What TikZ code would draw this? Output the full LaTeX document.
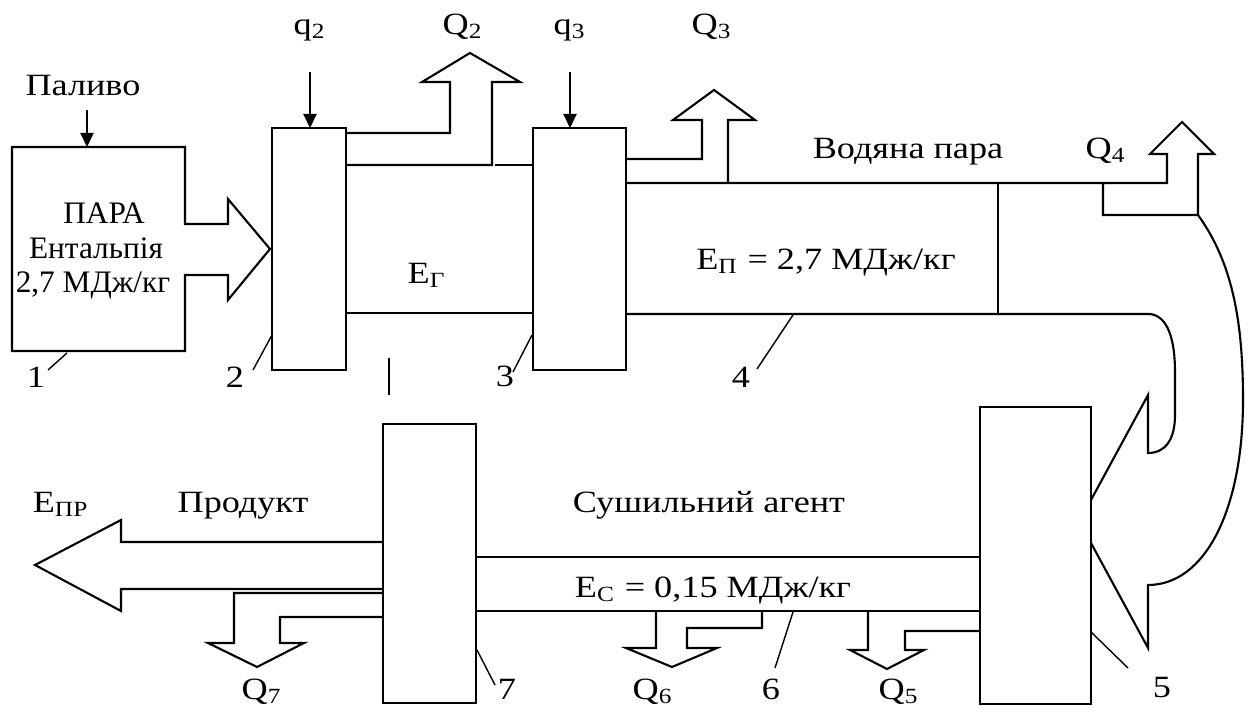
\documentclass[tikz,border=0pt]{standalone}
\usepackage{fontspec}
\setmainfont{Liberation Serif}[FakeStretch=1.17]
\newfontfamily\plainserif{Liberation Serif}
\usetikzlibrary{arrows.meta}
\tikzset{
  wall/.style    = {line width=0.6pt,line join=miter},
  inarr/.style   = {-{Triangle[length=1.4mm,width=1.3mm]},line width=0.6pt},
  leader/.style  = {line width=0.4pt},
  lbl/.style     = {font=\fontsize{8.8}{10.5}\selectfont,inner sep=0pt,anchor=base},
  boxlbl/.style  = {lbl,font=\plainserif\fontsize{8.9}{10.5}\selectfont}
}
\begin{document}
\begin{tikzpicture}[x=0.01cm,y=-0.01cm]
  \useasboundingbox (0,0) rectangle (1251,713);
  % boiler 1 with the steam arrow
  \draw[wall] (185,224) -- (185,147) -- (12,147) -- (12,351) -- (185,351) -- (185,275)
    -- (228,275) -- (228,300) -- (270,249) -- (228,199) -- (228,224) -- cycle;
  \draw[inarr] (87,110) -- (87,147);
  % units 2, 3, 5, 7
  \draw[wall] (272,128) rectangle (346,370);
  \draw[wall] (533,128) rectangle (626,370);
  \draw[wall] (980,407) rectangle (1091,704);
  \draw[wall] (383,424) rectangle (476,703);
  \draw[inarr] (310,72) -- (310,128);
  \draw[inarr] (570,72) -- (570,128);
  % gas pipe 2-3 and loss Q2
  \draw[wall] (346,133) -- (450,133) -- (450,82) -- (422,82) -- (470,53) -- (520,82)
    -- (492,82) -- (492,165) -- (346,165);
  \draw[wall] (495,165) -- (533,165);
  \draw[wall] (346,313) -- (533,313);
  % steam pipe 4, losses Q3 and Q4
  \draw[wall] (626,159) -- (702,159) -- (702,120) -- (673,120) -- (714,90) -- (755,120)
    -- (728,120) -- (728,183);
  \draw[wall] (626,183) -- (1167,183) -- (1167,154) -- (1150,154) -- (1182,122)
    -- (1214,154) -- (1198,154) -- (1198,215) -- (1103,215) -- (1103,183);
  \draw[wall] (998,183) -- (998,314);
  % bend into unit 5
  \draw[wall] (1198,215) .. controls (1232,262) and (1243,320) .. (1243,400)
    .. controls (1243,510) and (1205,585) .. (1148,585) -- (1148,648) -- (1091,543);
  \draw[wall] (626,314) -- (1150,314) .. controls (1168,316) and (1175,340) .. (1175,372)
    -- (1175,415) .. controls (1175,440) and (1165,453) .. (1148,453) -- (1148,395)
    -- (1091,500);
  % drying agent pipe 6, losses Q5 and Q6
  \draw[wall] (476,557) -- (980,557);
  \draw[wall] (476,611) -- (980,611);
  \draw[wall] (656,611) -- (656,648) -- (626,648) -- (672,667) -- (717,648) -- (687,648)
    -- (687,628) -- (762,628) -- (762,611);
  \draw[wall] (868,611) -- (868,650) -- (850,650) -- (887,669) -- (924,650) -- (905,650)
    -- (905,631) -- (980,631);
  % product out of unit 7, loss Q7
  \draw[wall] (383,542) -- (121,542) -- (121,520) -- (35,565) -- (121,611) -- (121,589)
    -- (383,589);
  \draw[wall] (383,593) -- (234,593) -- (234,643) -- (208,643) -- (257,667) -- (304,643)
    -- (280,643) -- (280,617) -- (383,617);
  \draw[leader] (389,358) -- (389,395);

  % texts
  \node[lbl] (fuel)  at (83,96)   {Паливо};
  \node[boxlbl] (steam) at (104,224) {ПАРА};
  \node[boxlbl] (enth)  at (96,259)  {Ентальпія};
  \node[boxlbl] (eval)  at (93,293)  {2,7 МДж/кг};
  \node[lbl] (q2)    at (310,35)  {q\textsubscript{2}};
  \node[lbl] (q3)    at (570,35)  {q\textsubscript{3}};
  \node[lbl] (bQ2)   at (463,35)  {Q\textsubscript{2}};
  \node[lbl] (bQ3)   at (712,35)  {Q\textsubscript{3}};
  \node[lbl] (bQ4)   at (1106,159) {Q\textsubscript{4}};
  \node[lbl] (vapor) at (908,159) {Водяна пара};
  \node[lbl] (eg)    at (427,284) {E\textsubscript{Г}};
  \node[lbl] (ep)    at (826,270) {E\textsubscript{П} = 2,7 МДж/кг};
  \node[lbl] (epr)   at (61,513)  {E\textsubscript{ПР}};
  \node[lbl] (prod)  at (243,513) {Продукт};
  \node[lbl] (agent) at (709,513) {Сушильний агент};
  \node[lbl] (ec)    at (713,598) {E\textsubscript{C} = 0,15 МДж/кг};
  \node[lbl] (bQ7)   at (262,700) {Q\textsubscript{7}};
  \node[lbl] (bQ6)   at (653,700) {Q\textsubscript{6}};
  \node[lbl] (bQ5)   at (899,700) {Q\textsubscript{5}};
  % position numbers
  \node[lbl] (n1) at (36,388)   {1};
  \node[lbl] (n2) at (235,388)  {2};
  \node[lbl] (n3) at (505,387)  {3};
  \node[lbl] (n4) at (741,388)  {4};
  \node[lbl] (n5) at (1162,698) {5};
  \node[lbl] (n6) at (771,700)  {6};
  \node[lbl] (n7) at (507,700)  {7};
  \draw[leader] (48,370) -- (67,353);
  \draw[leader] (253,370) -- (272,335);
  \draw[leader] (513,372) -- (532,335);
  \draw[leader] (757,369) -- (793,315);
  \draw[leader] (1091,632) -- (1128,668);
  \draw[leader] (775,668) -- (793,612);
  \draw[leader] (477,650) -- (495,685);
\end{tikzpicture}
\end{document}
